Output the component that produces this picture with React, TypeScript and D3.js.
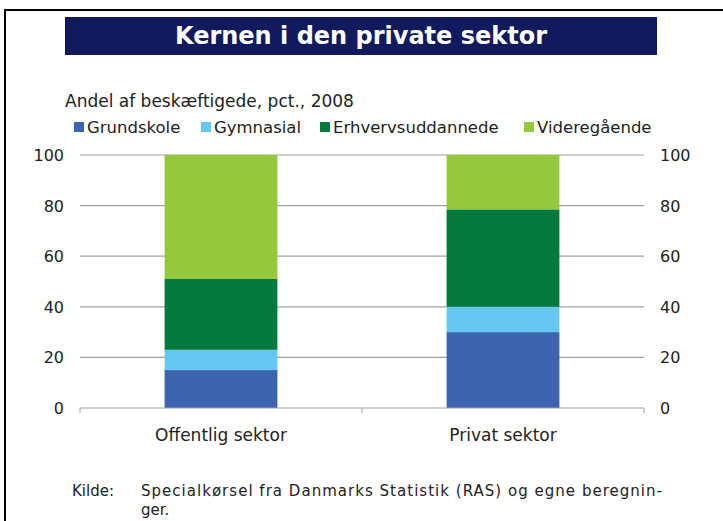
import React, { useEffect, useRef } from 'react';
import * as d3 from 'd3';

const categories = ['Offentlig sektor', 'Privat sektor'];
const seriesNames = ['Grundskole', 'Gymnasial', 'Erhvervsuddannede', 'Videregående'];
const grundskole = [15, 30];
const gymnasial = [8, 10];
const erhvervsuddannede = [28, 38.5];
const videregaaende = [49, 21.5];
const yTicks = [0, 20, 40, 60, 80, 100];
const colors = ['#3d64ae', '#66c8f0', '#047a3e', '#95c83d'];

const App = () => {
    const svgRef = useRef<SVGSVGElement>(null);

    useEffect(() => {
        const svg = d3.select(svgRef.current);
        svg.selectAll('*').remove();

        const font = 'DejaVu Sans, Verdana, sans-serif';
        const left = 80, right = 644, top = 155, bottom = 408;

        // frame + title banner
        svg.append('rect').attr('x', 5).attr('y', 10).attr('width', 740).attr('height', 540)
            .attr('fill', 'none').attr('stroke', '#000').attr('stroke-width', 2);
        svg.append('rect').attr('x', 65).attr('y', 17).attr('width', 592).attr('height', 38)
            .attr('fill', '#101a5c');
        svg.append('text').attr('x', 361).attr('y', 44).attr('text-anchor', 'middle')
            .attr('fill', '#fff').attr('font-family', font).attr('font-weight', 'bold')
            .attr('font-size', 24).text('Kernen i den private sektor');

        svg.append('text').attr('x', 65).attr('y', 107).attr('font-family', font)
            .attr('font-size', 17).attr('fill', '#222').text('Andel af beskæftigede, pct., 2008');

        // legend
        const legendX = [74, 201, 320, 524];
        const legend = svg.append('g');
        seriesNames.forEach((name, i) => {
            legend.append('rect').attr('x', legendX[i]).attr('y', 122).attr('width', 10).attr('height', 10)
                .attr('fill', colors[i]);
            legend.append('text').attr('x', legendX[i] + 13).attr('y', 133).attr('font-family', font)
                .attr('font-size', 16.5).attr('fill', '#222').text(name);
        });

        const x = d3.scaleBand().domain(categories).range([left, right]).padding(0);
        const y = d3.scaleLinear().domain([0, 100]).range([bottom, top]);

        // gridlines
        svg.append('g').selectAll('line').data(yTicks.filter(t => t > 0)).join('line')
            .attr('x1', left).attr('x2', right)
            .attr('y1', d => y(d)).attr('y2', d => y(d))
            .attr('stroke', '#a0a0a0').attr('stroke-width', 1.2);

        // stacked bars
        const rows = categories.map((c, i) => ({
            cat: c,
            Grundskole: grundskole[i],
            Gymnasial: gymnasial[i],
            Erhvervsuddannede: erhvervsuddannede[i],
            'Videregående': videregaaende[i],
        }));
        const stacked = d3.stack<any>().keys(seriesNames)(rows);
        const barW = x.bandwidth() * 0.4;
        stacked.forEach((layer, i) => {
            svg.append('g').selectAll('rect').data(layer).join('rect')
                .attr('x', d => x(d.data.cat)! + (x.bandwidth() - barW) / 2)
                .attr('width', barW)
                .attr('y', d => y(d[1]))
                .attr('height', d => y(d[0]) - y(d[1]))
                .attr('fill', colors[i]);
        });

        // x axis line and ticks
        svg.append('line').attr('x1', left).attr('x2', right).attr('y1', bottom).attr('y2', bottom)
            .attr('stroke', '#a0a0a0').attr('stroke-width', 1.2);
        const tickPos = [left, ...categories.map(c => x(c)! + x.bandwidth())];
        svg.append('g').selectAll('line').data(tickPos).join('line')
            .attr('x1', d => d).attr('x2', d => d).attr('y1', bottom).attr('y2', bottom + 5)
            .attr('stroke', '#a0a0a0');

        svg.append('g').selectAll('text').data(categories).join('text')
            .attr('x', d => x(d)! + x.bandwidth() / 2).attr('y', 441)
            .attr('text-anchor', 'middle').attr('font-family', font).attr('font-size', 17)
            .attr('fill', '#222').text(d => d);

        // y labels both sides
        svg.append('g').selectAll('text').data(yTicks).join('text')
            .attr('x', 64).attr('y', d => y(d) + 6).attr('text-anchor', 'end')
            .attr('font-family', font).attr('font-size', 16).attr('fill', '#222').text(d => d);
        svg.append('g').selectAll('text').data(yTicks).join('text')
            .attr('x', 660).attr('y', d => y(d) + 6).attr('text-anchor', 'start')
            .attr('font-family', font).attr('font-size', 16).attr('fill', '#222').text(d => d);

        // source
        svg.append('text').attr('x', 72).attr('y', 496).attr('font-family', font)
            .attr('font-size', 15).attr('fill', '#222').text('Kilde:');
        svg.append('text').attr('x', 141).attr('y', 496).attr('font-family', font)
            .attr('font-size', 15).attr('fill', '#222')
            .attr('textLength', 521).attr('lengthAdjust', 'spacing')
            .text('Specialkørsel fra Danmarks Statistik (RAS) og egne beregnin-');
        svg.append('text').attr('x', 141).attr('y', 515).attr('font-family', font)
            .attr('font-size', 15).attr('fill', '#222').text('ger.');
    }, []);

    return (
        <svg ref={svgRef} width="723" height="521" style={{ position: 'absolute', left: 0, top: 0, background: '#fff' }}></svg>
    );
};

export default App;
